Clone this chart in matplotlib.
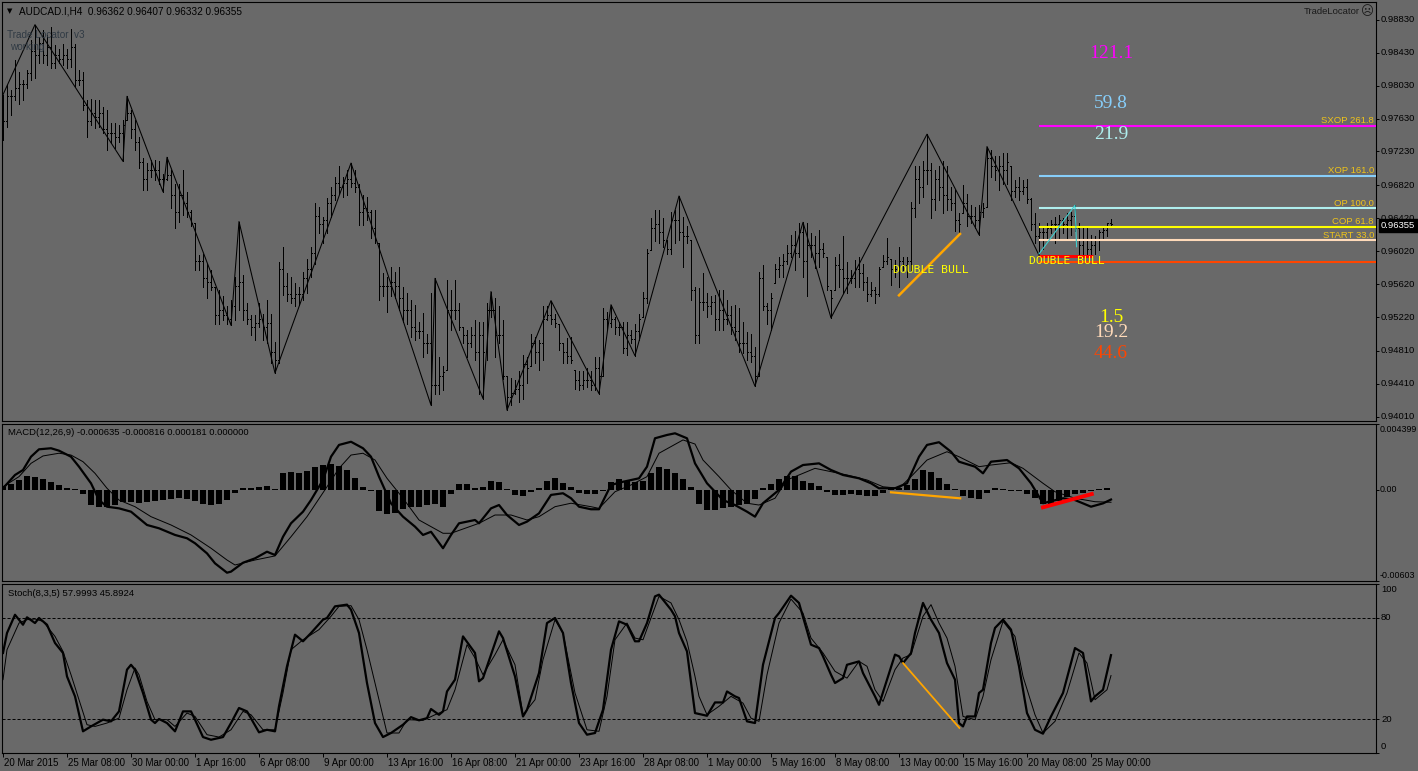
import numpy as np
import matplotlib
matplotlib.use("Agg")
import matplotlib.pyplot as plt
from matplotlib.transforms import blended_transform_factory, offset_copy, ScaledTranslation

plt.rcParams['font.family'] = ['Liberation Sans', 'DejaVu Sans']
plt.rcParams['lines.scale_dashes'] = False

# ---------------- DATA (prices in pips = price * 10000) ----------------
high_p = [9792, 9804, 9798, 9834, 9820, 9810, 9822, 9858, 9877, 9862,
          9870, 9864, 9874, 9852, 9848, 9854, 9848, 9872, 9854, 9822,
          9820, 9785, 9787, 9785, 9785, 9777, 9773, 9757, 9757, 9755,
          9761, 9790, 9773, 9761, 9741, 9715, 9709, 9713, 9713, 9711,
          9696, 9716, 9700, 9684, 9684, 9700, 9674, 9652, 9636, 9597,
          9599, 9587, 9579, 9559, 9555, 9547, 9535, 9543, 9571, 9638,
          9573, 9539, 9524, 9524, 9539, 9526, 9543, 9526, 9492, 9589,
          9607, 9575, 9571, 9563, 9559, 9577, 9593, 9607, 9660, 9656,
          9644, 9666, 9680, 9692, 9705, 9692, 9700, 9709, 9700, 9684,
          9670, 9668, 9652, 9652, 9612, 9575, 9571, 9583, 9577, 9583,
          9559, 9551, 9543, 9537, 9516, 9527, 9502, 9551, 9569, 9474,
          9462, 9567, 9555, 9567, 9539, 9510, 9506, 9510, 9518, 9516,
          9516, 9539, 9553, 9545, 9535, 9518, 9450, 9448, 9446, 9456,
          9476, 9474, 9502, 9498, 9494, 9535, 9535, 9542, 9526, 9514,
          9490, 9496, 9498, 9458, 9456, 9456, 9460, 9456, 9474, 9474,
          9533, 9528, 9537, 9522, 9516, 9516, 9516, 9506, 9514, 9526,
          9553, 9605, 9642, 9652, 9652, 9642, 9616, 9650, 9652, 9669,
          9644, 9632, 9616, 9559, 9557, 9575, 9551, 9547, 9549, 9555,
          9555, 9543, 9535, 9537, 9533, 9516, 9504, 9502, 9486, 9577,
          9585, 9539, 9551, 9587, 9595, 9599, 9609, 9622, 9626, 9636,
          9637, 9636, 9624, 9620, 9628, 9612, 9595, 9555, 9595, 9599,
          9620, 9589, 9579, 9591, 9595, 9587, 9571, 9565, 9559, 9583,
          9597, 9618, 9593, 9591, 9607, 9595, 9595, 9662, 9705, 9705,
          9711, 9744, 9709, 9700, 9705, 9711, 9705, 9680, 9676, 9648,
          9682, 9672, 9658, 9656, 9658, 9660, 9729, 9725, 9717, 9717,
          9721, 9721, 9705, 9688, 9692, 9688, 9690, 9666, 9648, 9636,
          9632, 9636, 9640, 9644, 9646, 9642, 9648, 9650, 9658, 9636,
          9630, 9632, 9622, 9620, 9628, 9632, 9636, 9640.7]
low_p = [9737, 9753, 9767, 9786, 9781, 9786, 9800, 9810, 9812, 9830,
         9830, 9828, 9824, 9824, 9830, 9828, 9824, 9826, 9802, 9804,
         9773, 9741, 9755, 9751, 9753, 9745, 9725, 9733, 9727, 9735,
         9711, 9761, 9739, 9725, 9703, 9676, 9676, 9692, 9688, 9684,
         9674, 9688, 9654, 9630, 9638, 9646, 9644, 9632, 9579, 9579,
         9559, 9545, 9555, 9514, 9513, 9518, 9514, 9512, 9518, 9530,
         9518, 9513, 9500, 9494, 9510, 9494, 9490, 9466, 9454, 9466,
         9549, 9541, 9539, 9535, 9537, 9543, 9551, 9571, 9587, 9624,
         9612, 9624, 9644, 9664, 9672, 9668, 9670, 9680, 9674, 9634,
         9634, 9640, 9618, 9612, 9543, 9547, 9528, 9547, 9545, 9531,
         9516, 9514, 9498, 9494, 9496, 9474, 9478, 9415, 9429, 9429,
         9433, 9458, 9506, 9520, 9506, 9490, 9474, 9486, 9470, 9429,
         9423, 9470, 9522, 9474, 9490, 9447, 9409, 9415, 9429, 9419,
         9423, 9442, 9462, 9466, 9458, 9470, 9518, 9514, 9510, 9482,
         9466, 9466, 9466, 9435, 9433, 9435, 9437, 9433, 9433, 9429,
         9450, 9506, 9510, 9502, 9500, 9478, 9476, 9490, 9475, 9494,
         9522, 9539, 9603, 9614, 9612, 9607, 9599, 9599, 9612, 9616,
         9583, 9612, 9543, 9490, 9490, 9531, 9522, 9526, 9506, 9506,
         9506, 9514, 9502, 9494, 9480, 9478, 9470, 9468, 9438, 9450,
         9531, 9514, 9506, 9563, 9571, 9571, 9587, 9595, 9579, 9595,
         9571, 9547, 9595, 9581, 9583, 9595, 9555, 9521, 9555, 9559,
         9551, 9551, 9563, 9559, 9559, 9555, 9541, 9547, 9539, 9547,
         9583, 9587, 9561, 9571, 9559, 9579, 9571, 9579, 9644, 9660,
         9668, 9684, 9642, 9652, 9664, 9648, 9652, 9652, 9626, 9624,
         9648, 9632, 9636, 9630, 9622, 9644, 9656, 9692, 9688, 9676,
         9684, 9684, 9664, 9668, 9664, 9672, 9660, 9628, 9612, 9597,
         9605, 9616, 9624, 9612, 9618, 9624, 9616, 9622, 9626, 9599,
         9599, 9599, 9598, 9599, 9603, 9618, 9620, 9633.2]
close_p = [9760, 9790, 9790, 9800, 9805, 9805, 9818, 9845, 9840, 9855,
           9840, 9850, 9830, 9840, 9835, 9840, 9835, 9850, 9810, 9810,
           9780, 9760, 9770, 9765, 9770, 9750, 9745, 9745, 9740, 9745,
           9755, 9770, 9750, 9735, 9710, 9690, 9700, 9700, 9700, 9690,
           9690, 9695, 9670, 9650, 9670, 9660, 9650, 9636, 9590, 9590,
           9570, 9565, 9558, 9525, 9530, 9525, 9520, 9535, 9560, 9565,
           9530, 9520, 9510, 9515, 9520, 9510, 9515, 9480, 9470, 9580,
           9560, 9550, 9545, 9550, 9550, 9570, 9580, 9600, 9645, 9635,
           9640, 9660, 9670, 9685, 9680, 9685, 9690, 9685, 9680, 9650,
           9655, 9650, 9630, 9615, 9560, 9560, 9560, 9565, 9560, 9545,
           9530, 9530, 9510, 9505, 9505, 9490, 9490, 9440, 9440, 9450,
           9455, 9530, 9530, 9530, 9510, 9500, 9490, 9500, 9480, 9500,
           9480, 9530, 9530, 9500, 9500, 9450, 9425, 9430, 9435, 9440,
           9465, 9460, 9490, 9480, 9490, 9520, 9525, 9520, 9515, 9490,
           9480, 9475, 9470, 9445, 9440, 9445, 9445, 9440, 9460, 9450,
           9520, 9515, 9520, 9510, 9510, 9485, 9500, 9495, 9505, 9520,
           9545, 9600, 9630, 9635, 9625, 9615, 9605, 9640, 9640, 9625,
           9620, 9620, 9555, 9500, 9540, 9540, 9535, 9540, 9520, 9530,
           9520, 9525, 9510, 9505, 9490, 9490, 9480, 9475, 9450, 9570,
           9535, 9530, 9545, 9580, 9585, 9590, 9600, 9610, 9600, 9625,
           9590, 9610, 9610, 9600, 9605, 9600, 9560, 9545, 9585, 9580,
           9570, 9570, 9570, 9580, 9575, 9565, 9550, 9555, 9550, 9580,
           9590, 9595, 9580, 9580, 9590, 9585, 9590, 9655, 9690, 9680,
           9700, 9700, 9665, 9690, 9680, 9670, 9665, 9660, 9640, 9635,
           9660, 9645, 9645, 9640, 9650, 9655, 9715, 9705, 9700, 9705,
           9700, 9710, 9675, 9680, 9675, 9680, 9665, 9635, 9620, 9625,
           9625, 9630, 9635, 9635, 9640, 9635, 9640, 9645, 9630, 9610,
           9615, 9605, 9610, 9615, 9625, 9628, 9636, 9635.5]

zz_idx = [0, 8, 30, 31, 40, 41, 57, 59, 68, 87, 107, 108, 120, 122, 126, 137,
          149, 152, 158, 169, 188, 200, 207, 231, 244, 246, 259]
zz_val = [9792, 9877, 9711, 9790, 9674, 9716, 9512, 9638, 9454, 9709, 9415, 9569,
          9423, 9553, 9409, 9542, 9429, 9537, 9475, 9669, 9438, 9637, 9521, 9744,
          9622, 9729, 9597]

# MACD (units of 1e-5)
macd_idx = [0, 3, 5, 7, 9, 12, 14, 17, 19, 22, 24, 26, 29, 32, 34, 36, 39, 43, 46, 48,
            51, 53, 56, 57, 60, 63, 66, 68, 70, 72, 75, 77, 80, 82, 84, 87, 90, 92, 94, 97,
            100, 103, 105, 107, 110, 112, 114, 118, 119, 122, 124, 126, 129, 131, 134, 137,
            140, 142, 144, 147, 149, 152, 155, 159, 161, 163, 166, 168, 171, 173, 176, 180,
            183, 186, 188, 190, 194, 197, 200, 204, 207, 210, 214, 217, 219, 223, 226, 229,
            231, 234, 237, 239, 243, 245, 247, 251, 254, 257, 260, 265, 268, 272, 275, 277]
macd_val = [11, 99, 132, 220, 269, 276, 260, 220, 154, 44, -67, -111, -122, -144, -188,
            -232, -254, -298, -320, -353, -420, -486, -548, -541, -482, -453, -409, -431,
            -310, -221, -144, -67, 66, 220, 298, 319, 276, 220, 88, -89, -177, -243, -298,
            -277, -386, -298, -221, -199, -221, -122, -100, -166, -232, -210, -155, -33,
            -22, -55, -111, -128, -128, 33, 54, 77, 154, 342, 364, 375, 342, 176, 44, -67,
            -100, -144, -177, -88, 0, 121, 165, 176, 132, 99, 77, 44, 11, 11, 44, 220, 298,
            316, 253, 187, 154, 110, 187, 198, 143, 44, -88, -55, -67, -111, -89, -63.5]
sig_idx = [0, 4, 7, 10, 14, 17, 20, 23, 26, 29, 33, 37, 42, 47, 52, 56, 58, 63, 68, 72,
           76, 81, 84, 87, 90, 93, 96, 100, 104, 110, 112, 119, 123, 127, 131, 134, 138,
           142, 147, 149, 153, 157, 161, 164, 170, 173, 175, 179, 182, 186, 189, 193, 196,
           200, 203, 207, 211, 216, 220, 224, 227, 231, 236, 239, 244, 247, 252, 255, 260,
           263, 268, 273, 277]
sig_val = [21, 88, 176, 225, 243, 231, 187, 110, 11, -67, -111, -177, -232, -298, -386,
           -464, -497, -464, -437, -310, -177, 21, 143, 231, 243, 198, 77, -55, -199, -287,
           -287, -221, -166, -166, -199, -177, -111, -88, -111, -122, -12, 33, 88, 243, 331,
           304, 198, 88, 0, -88, -100, -55, 66, 110, 143, 121, 99, 66, 21, 11, 88, 198, 253,
           220, 154, 165, 180, 143, 44, -12, -55, -78, -81.6]
hist_val = [20, 40, 65, 95, 85, 75, 55, 30, 12, 5, -25, -100, -115, -110, -100, -80, -78,
            -85, -82, -70, -65, -62, -55, -60, -75, -90, -100, -95, -65, -20, 10, 15, 18, 25,
            5, 110, 120, 115, 125, 150, 165, 170, 160, 130, 80, 20, -10, -140, -160, -150,
            -125, -110, -110, -100, -90, -110, -30, 40, 40, 10, 20, 60, 55, 5, -35, -40, -15,
            10, 60, 80, 45, 20, -20, -30, -30, -10, 55, 70, 60, 50, 60, 110, 150, 140, 110,
            70, 20, -90, -135, -135, -120, -110, -100, -90, -60, 10, 40, 70, 95, 90, 60, 45,
            25, -15, -35, -35, -30, -35, -40, -40, -20, 5, 15, 35, 75, 130, 120, 80, 40, 5,
            -40, -55, -60, -20, 10, 5, -5, -10, -25, -55, -95, -90, -70, -50, -30, -20, -5,
            5, 15]
hist_idx = list(range(0, 2 * len(hist_val), 2))

# Stochastic
k_idx = [0, 1, 3, 5, 6, 8, 9, 11, 13, 15, 16, 18, 20, 22, 25, 27, 29, 31, 32, 33, 35, 37,
         38, 39, 41, 43, 45, 47, 48, 50, 52, 55, 57, 59, 61, 64, 66, 68, 69, 71, 73, 75, 77,
         80, 81, 83, 86, 87, 89, 91, 93, 95, 97, 100, 102, 104, 106, 107, 109, 110, 111,
         113, 115, 118, 119, 120, 122, 124, 125, 128, 130, 131, 134, 136, 138, 140, 142,
         144, 146, 148, 150, 152, 154, 156, 158, 159, 161, 163, 164, 167, 168, 169, 171,
         173, 176, 178, 180, 181, 183, 184, 186, 188, 190, 193, 194, 197, 199, 202, 204,
         205, 207, 208, 210, 211, 214, 215, 218, 219, 221, 223, 224, 225, 227, 228, 230,
         232, 234, 236, 238, 239, 240, 241, 243, 244, 245, 247, 248, 250, 252, 254, 256,
         258, 260, 262, 265, 268, 270, 272, 273, 275, 277]
k_val = [59.3, 71.1, 81.9, 76, 80.4, 77, 80, 76, 65.2, 59.3, 45.4, 33.6, 12.9, 15.8, 19.8,
         18.8, 24.7, 49.4, 52.3, 49.4, 35.6, 19.8, 17.8, 20.2, 17.8, 12.9, 24.7, 24.7, 19.8,
         9.5, 7.9, 9.5, 17.8, 26.7, 24.7, 12.3, 13.8, 12.9, 27.7, 51.4, 70.1, 66.2, 71.1,
         79, 80, 86.9, 87.9, 84.9, 71.1, 41.5, 17.8, 9.5, 11.9, 16.8, 21.3, 19.4, 20.7,
         26.1, 22.7, 24.7, 36.5, 43.5, 69.1, 59.3, 42.5, 44.4, 58.3, 72.1, 68.1, 45.4, 21.7,
         25.7, 47.4, 77, 80, 71.1, 41.5, 17.8, 10.9, 11.9, 25.7, 61.2, 78, 76, 66.2, 66.2,
         77, 92.8, 93.8, 84.9, 81, 71.1, 60.2, 23.7, 22.1, 30, 30, 36.5, 33.6, 32.6, 18.8,
         17.8, 52.3, 80, 82.9, 93.2, 88.9, 64.2, 62.2, 57.3, 46.4, 41.5, 44.4, 52.3, 54.3,
         47.4, 33.6, 28.6, 43.5, 58.3, 57.3, 53.3, 59.2, 71.1, 88.9, 79, 71.1, 53.3, 43.5,
         17.8, 15.8, 21.7, 21.7, 35.6, 37.5, 65.2, 74.1, 79, 73.1, 51.4, 23.7, 13.8, 11.5,
         21.7, 35.6, 62.2, 59.3, 30.6, 33.6, 37.5, 58.0]
d_idx = [0, 1, 4, 6, 8, 10, 13, 15, 17, 19, 21, 23, 26, 29, 31, 33, 34, 36, 38, 41, 43, 46,
         48, 51, 54, 57, 60, 62, 65, 68, 70, 72, 75, 79, 82, 84, 87, 89, 91, 94, 96, 99, 101,
         105, 108, 111, 113, 116, 118, 120, 123, 125, 128, 130, 133, 135, 138, 140, 143, 146,
         149, 151, 153, 156, 158, 160, 162, 164, 167, 169, 171, 173, 174, 176, 179, 182,
         185, 187, 189, 191, 194, 197, 200, 202, 205, 208, 211, 214, 216, 218, 220, 223,
         225, 227, 230, 232, 234, 236, 238, 240, 243, 245, 247, 250, 253, 255, 258, 260,
         263, 266, 269, 271, 273, 276, 277]
d_val = [43.5, 61.2, 77, 79, 79.4, 78, 69.1, 60.2, 46.4, 31.6, 16.8, 15.8, 17.8, 20.7,
         37.5, 50.4, 46.4, 30.6, 19.8, 19.8, 15.8, 23.7, 21.7, 10.9, 9.5, 13.8, 24.7, 22.7,
         13.8, 13.8, 35.6, 61.2, 67.1, 73.1, 81, 86.9, 87.3, 79, 61.2, 31.6, 11.9, 11.9,
         19.8, 19.4, 22.7, 25.7, 37.5, 64.2, 56.3, 46.4, 58.3, 67.1, 52.3, 22.7, 31.6, 55.3,
         79, 71.1, 35.6, 13.8, 12.9, 33.6, 67.1, 77, 68.1, 67.1, 80, 92.8, 88.9, 79, 66,
         45.4, 33.6, 22.7, 27.7, 33.6, 29.6, 20.7, 18.8, 46.4, 77, 91.2, 82.9, 68.1, 59.3,
         48.4, 44.4, 54.3, 51.4, 37.5, 30.6, 49.4, 56.3, 58.3, 81, 87.9, 77, 68.1, 51.4,
         21.7, 19.8, 33.6, 55.3, 78, 69.1, 45.4, 22.7, 11.9, 18.8, 35.6, 59.3, 53.3, 31.6,
         37.5, 45.9]

price_ticks = [0.98830, 0.98430, 0.98030, 0.97630, 0.97230, 0.96820, 0.96420,
               0.96020, 0.95620, 0.95220, 0.94810, 0.94410, 0.94010]
time_idx = [0, 16, 32, 48, 64, 80, 96, 112, 128, 144, 160, 176, 192, 208, 224, 240, 256, 272]
time_labels = ['20 Mar 2015', '25 Mar 08:00', '30 Mar 00:00', '1 Apr 16:00', '6 Apr 08:00',
               '9 Apr 00:00', '13 Apr 16:00', '16 Apr 08:00', '21 Apr 00:00', '23 Apr 16:00',
               '28 Apr 08:00', '1 May 00:00', '5 May 16:00', '8 May 08:00', '13 May 00:00',
               '15 May 16:00', '20 May 08:00', '25 May 00:00']

# Trade Locator levels
level_names = ['SXOP 261.8', 'XOP 161.0', 'OP 100.0', 'COP 61.8', 'START 33.0', '']
level_vals = [0.97540, 0.96936, 0.96544, 0.96317, 0.96152, 0.95888]
level_colors = ['#ff00ff', '#87cefa', '#afeeee', '#ffff00', '#ffdab9', '#ff4500']
level_start = 259
big_labels = ['121.1', '59.8', '21.9', '1.5', '19.2', '44.6']
big_prices = [0.98422, 0.97815, 0.97439, 0.95215, 0.95030, 0.94775]
big_colors = ['#ff00ff', '#87cefa', '#afeeee', '#ffff00', '#ffdab9', '#ff4500']
big_idx = 277

# ---------------- FIGURE ----------------
W, H = 1418, 771
BG = '#696969'
fig = plt.figure(figsize=(W / 100, H / 100), dpi=100)
fig.patch.set_facecolor(BG)


def px_axes(left, top, right, bottom):
    return fig.add_axes([left / W, 1 - bottom / H, (right - left) / W, (bottom - top) / H])


ax1 = px_axes(2, 2, 1376, 421.5)
ax2 = px_axes(2, 423.5, 1376, 581)
ax3 = px_axes(2, 584.2, 1376, 753.1)
XL = (-0.25, 343.25)
for ax in (ax1, ax2, ax3):
    ax.set_facecolor(BG)
    ax.set_xlim(*XL)
    for s in ax.spines.values():
        s.set_color('black')
        s.set_linewidth(0.8)
    ax.tick_params(axis='y', left=False, labelleft=False, right=True, labelright=False,
                   direction='out', length=2.2, width=0.7, color='black')
    ax.tick_params(axis='x', bottom=False, labelbottom=False)

# ---- price panel ----
high = np.array(high_p) / 1e4
low = np.array(low_p) / 1e4
close = np.array(close_p) / 1e4
open_ = np.clip(np.r_[close[0], close[:-1]], low, high)
open_[-1] = 0.96362
x = np.arange(len(close))
ax1.set_ylim(0.93952, 0.99045)
ax1.vlines(x, low, high, colors='black', lw=0.55, antialiased=False)
ax1.hlines(open_, x - 0.28, x, colors='black', lw=0.55, antialiased=False)
ax1.hlines(close, x, x + 0.28, colors='black', lw=0.55, antialiased=False)
ax1.plot(zz_idx, np.array(zz_val) / 1e4, color='black', lw=0.75)

ax1.set_yticks(price_ticks)
rtrans1 = offset_copy(blended_transform_factory(ax1.transAxes, ax1.transData), fig=fig,
                      x=5, y=0, units='dots')
for v in price_ticks:
    ax1.text(1.0, v, '%.5f' % v, transform=rtrans1, ha='left', va='center', size=6.8,
             color='black', clip_on=False)
ax1.text(1.0, 0.96355, '0.96355', transform=offset_copy(
    blended_transform_factory(ax1.transAxes, ax1.transData), fig=fig, x=5, y=-2, units='dots'),
    ha='left', va='center', size=6.8, color='white', clip_on=False, zorder=10,
    bbox=dict(facecolor='black', edgecolor='black', pad=1.6))

# levels
for name, v, c in zip(level_names, level_vals, level_colors):
    ax1.hlines(v, level_start, XL[1], colors=c, lw=1.5, zorder=4)
    if name:
        ax1.text(0.9985, v, name, transform=offset_copy(
            blended_transform_factory(ax1.transAxes, ax1.transData), fig=fig, x=0, y=2.5,
            units='dots'), ha='right', va='baseline', size=6.8, color='#f0c419', zorder=6)
ax1.hlines(0.95961, level_start, 272.4, colors='#ff0000', lw=2.2, zorder=5)
ax1.plot([259, 268, 268.4], [0.95986, 0.96577, 0.96074], color='#40d0d0', lw=0.8, zorder=5)
ax1.plot([224, 239.25], [0.95484, 0.96229], color='#ffa500', lw=1.8, zorder=5)
ax1.text(232, 0.95790, 'DOUBLE BULL', ha='center', va='center', color='#ffff00',
         family='DejaVu Sans Mono', size=8.2, zorder=7)
ax1.text(266, 0.95897, 'DOUBLE BULL', ha='center', va='center', color='#ffff00',
         family='DejaVu Sans Mono', size=8.2, zorder=7)
for t, v, c in zip(big_labels, big_prices, big_colors):
    ax1.text(big_idx, v, t, ha='center', va='center', color=c, family='Liberation Serif',
             size=14, zorder=7)

# ---- MACD panel ----
ax2.set_ylim(-0.00603, 0.004399)
ax2.bar(hist_idx, np.array(hist_val) / 1e5, width=1.65, color='black', linewidth=0)
ax2.plot(sig_idx, np.array(sig_val) / 1e5, color='black', lw=0.7)
ax2.plot(macd_idx, np.array(macd_val) / 1e5, color='black', lw=1.6)
ax2.plot([222, 239.3], [-0.000157, -0.000554], color='#ffa500', lw=1.6, zorder=5)
ax2.plot([260, 272.2], [-0.00115, -0.00027], color='#ff0000', lw=2.8, zorder=5)
ax2.set_yticks([0.004399, 0.0, -0.00603])
bt2 = blended_transform_factory(ax2.transAxes, ax2.transData)
ax2.text(1.0, 0.004399, '0.004399', transform=offset_copy(bt2, fig=fig, x=4, y=-1.5, units='dots'),
         ha='left', va='top', size=6.4, clip_on=False)
ax2.text(1.0, 0.0, '0.00', transform=offset_copy(bt2, fig=fig, x=4, y=0, units='dots'),
         ha='left', va='center', size=6.4, clip_on=False)
ax2.text(1.0, -0.00603, '-0.00603', transform=offset_copy(bt2, fig=fig, x=4, y=1, units='dots'),
         ha='left', va='bottom', size=6.4, clip_on=False)

# ---- Stochastic panel ----
ax3.set_ylim(0, 100)
for lv in (20, 80):
    ax3.axhline(lv, color='black', lw=0.7, ls=(0, (2.2, 1.4)))
ax3.plot(d_idx, d_val, color='black', lw=0.7)
ax3.plot(k_idx, k_val, color='black', lw=1.6)
ax3.plot([225, 239.1], [53.3, 14.9], color='#ffa500', lw=1.3, zorder=5)
ax3.set_yticks([0, 20, 80, 100])
bt3 = blended_transform_factory(ax3.transAxes, ax3.transData)
ax3.text(1.0, 100, '100', transform=offset_copy(bt3, fig=fig, x=5, y=-1, units='dots'),
         ha='left', va='top', size=6.8, clip_on=False)
ax3.text(1.0, 80, '80', transform=offset_copy(bt3, fig=fig, x=5, y=0, units='dots'),
         ha='left', va='center', size=6.8, clip_on=False)
ax3.text(1.0, 20, '20', transform=offset_copy(bt3, fig=fig, x=5, y=0, units='dots'),
         ha='left', va='center', size=6.8, clip_on=False)
ax3.text(1.0, 0, '0', transform=offset_copy(bt3, fig=fig, x=5, y=2, units='dots'),
         ha='left', va='bottom', size=6.8, clip_on=False)

ax3.set_xticks(time_idx, labels=time_labels)
ax3.tick_params(axis='x', bottom=True, labelbottom=True, direction='out', length=2.6,
                width=0.7, pad=1.2, labelsize=7, color='black')
for lbl in ax3.get_xticklabels():
    lbl.set_ha('left')
    lbl.set_transform(lbl.get_transform() + ScaledTranslation(1 / 100, 0, fig.dpi_scale_trans))

# ---- header texts ----
fig.text(10 / W, 1 - 11 / H, '\u25bc', size=5, ha='center', va='center', color='black',
         family='DejaVu Sans')
fig.text(19 / W, 1 - 11 / H, 'AUDCAD.I,H4  0.96362 0.96407 0.96332 0.96355', size=7.2,
         ha='left', va='center', color='black')
fig.text(7.5 / W, 1 - 35.5 / H, 'Trade Locator  v3', size=7.2, ha='left', va='center',
         color='#303a44', zorder=10)
fig.text(10.5 / W, 1 - 47.5 / H, 'working', size=7.2, ha='left', va='center', color='#303a44',
         zorder=10)
fig.text(1304 / W, 1 - 12 / H, 'TradeLocator', size=6.8, ha='left', va='center', color='#1a1a1a')
fig.text(1367 / W, 1 - 11.5 / H, '\u2639', size=9, ha='center', va='center', color='#1a1a1a',
         family='DejaVu Sans')
fig.text(8 / W, 1 - 432.7 / H, 'MACD(12,26,9) -0.000635 -0.000816 0.000181 0.000000', size=6.8,
         ha='left', va='center', color='black')
fig.text(8 / W, 1 - 593 / H, 'Stoch(8,3,5) 57.9993 45.8924', size=6.8, ha='left', va='center',
         color='black')

fig.savefig('out.png', dpi=100, facecolor=BG)
